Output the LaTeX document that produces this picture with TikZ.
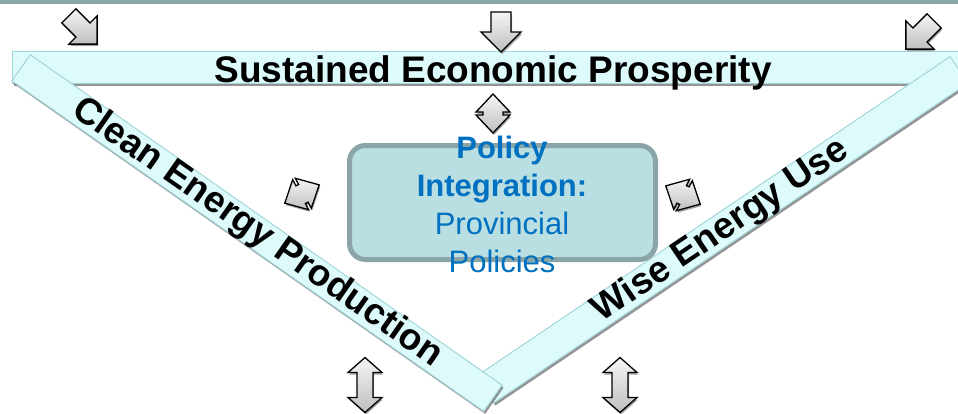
\documentclass[tikz,border=0pt]{standalone}
\usepackage{fontspec}
\setmainfont{Liberation Sans}
\usetikzlibrary{shadows}
\definecolor{bandfill}{RGB}{222,251,252}
\definecolor{bandedge}{RGB}{163,214,218}
\definecolor{boxfill}{RGB}{185,223,226}
\definecolor{boxedge}{RGB}{138,164,167}
\definecolor{policyblue}{RGB}{0,112,192}
\definecolor{topline}{RGB}{138,166,169}
\tikzset{
% light cyan bars of the triangle
band/.style={draw=bandedge,fill=bandfill,line width=1,inner sep=0,minimum height=32,
  drop shadow={shadow xshift=1.5pt,shadow yshift=-2.5pt,fill=black!60,opacity=.7}},
band text/.style={font=\fontsize{37}{40}\selectfont\bfseries,inner sep=0},
% grey block arrows, drawn along +x and turned with rotate
block arrow/.style={draw=black,line width=1.3,top color=gray!8,bottom color=gray!50,
  drop shadow={shadow xshift=1pt,shadow yshift=-2pt,fill=black!60,opacity=.6}},
single block/.pic={\path[block arrow] (-20,-10) -- (0,-10) -- (0,-20) -- (20,0) -- (0,20)
  -- (0,10) -- (-20,10) -- cycle;},
double block/.pic={\path[block arrow] (-27.5,0) -- (-12.5,-17) -- (-12.5,-8) -- (12.5,-8)
  -- (12.5,-17) -- (27.5,0) -- (12.5,17) -- (12.5,8) -- (-12.5,8) -- (-12.5,17) -- cycle;},
squat block/.pic={\path[block arrow] (-19.5,0) -- (-1.5,-17) -- (-1.5,-10) -- (1.5,-10)
  -- (1.5,-17) -- (19.5,0) -- (1.5,17) -- (1.5,10) -- (-1.5,10) -- (-1.5,17) -- cycle;}
}

\begin{document}
\begin{tikzpicture}[x=1pt,y=-1pt]
  \useasboundingbox (0,0) rectangle (958,413);
  % rule along the top
  \fill[topline] (0,0) rectangle (958,4);
  % The three bars
  \node[band,minimum width=952] (prosperity) at (488,67.5) {};
  \node[band,minimum width=572,rotate=34] (use) at (722,229.8) {};
  \node[band,minimum width=576,rotate=-35] (production) at (257,233) {};
  \node[band text,anchor=base] (prosperitytext) at (493,82) {Sustained Economic Prosperity};
  \node[band text,rotate=-35] (productiontext) at (production.center) {Clean Energy Production};
  \node[band text,rotate=34] (usetext) at (721,231) {Wise Energy Use};
  % policy box in the middle
  \node[draw=boxedge,fill=boxfill,line width=5,rounded corners=16,inner sep=0,
    minimum width=306,minimum height=114] (policy) at (502.5,202.5) {};
  \node[text=policyblue,align=center,inner sep=0,font=\fontsize{31}{38}\selectfont]
    (policytext) at (502,204) {\textbf{Policy}\\\textbf{Integration:}\\Provincial\\Policies};
  % arrows coming in from the top
  \pic[rotate=-45] at (83,30) {single block};
  \pic[rotate=-90] at (501,32) {single block};
  \pic[rotate=-135] at (920,35) {single block};
  % two-way arrows round the box
  \pic[rotate=90] at (493,113.5) {squat block};
  \pic[rotate=28] at (302,194) {squat block};
  \pic[rotate=-28] at (683,195) {squat block};
  \pic[rotate=90] at (365,385) {double block};
  \pic[rotate=90] at (620,385) {double block};
\end{tikzpicture}
\end{document}
